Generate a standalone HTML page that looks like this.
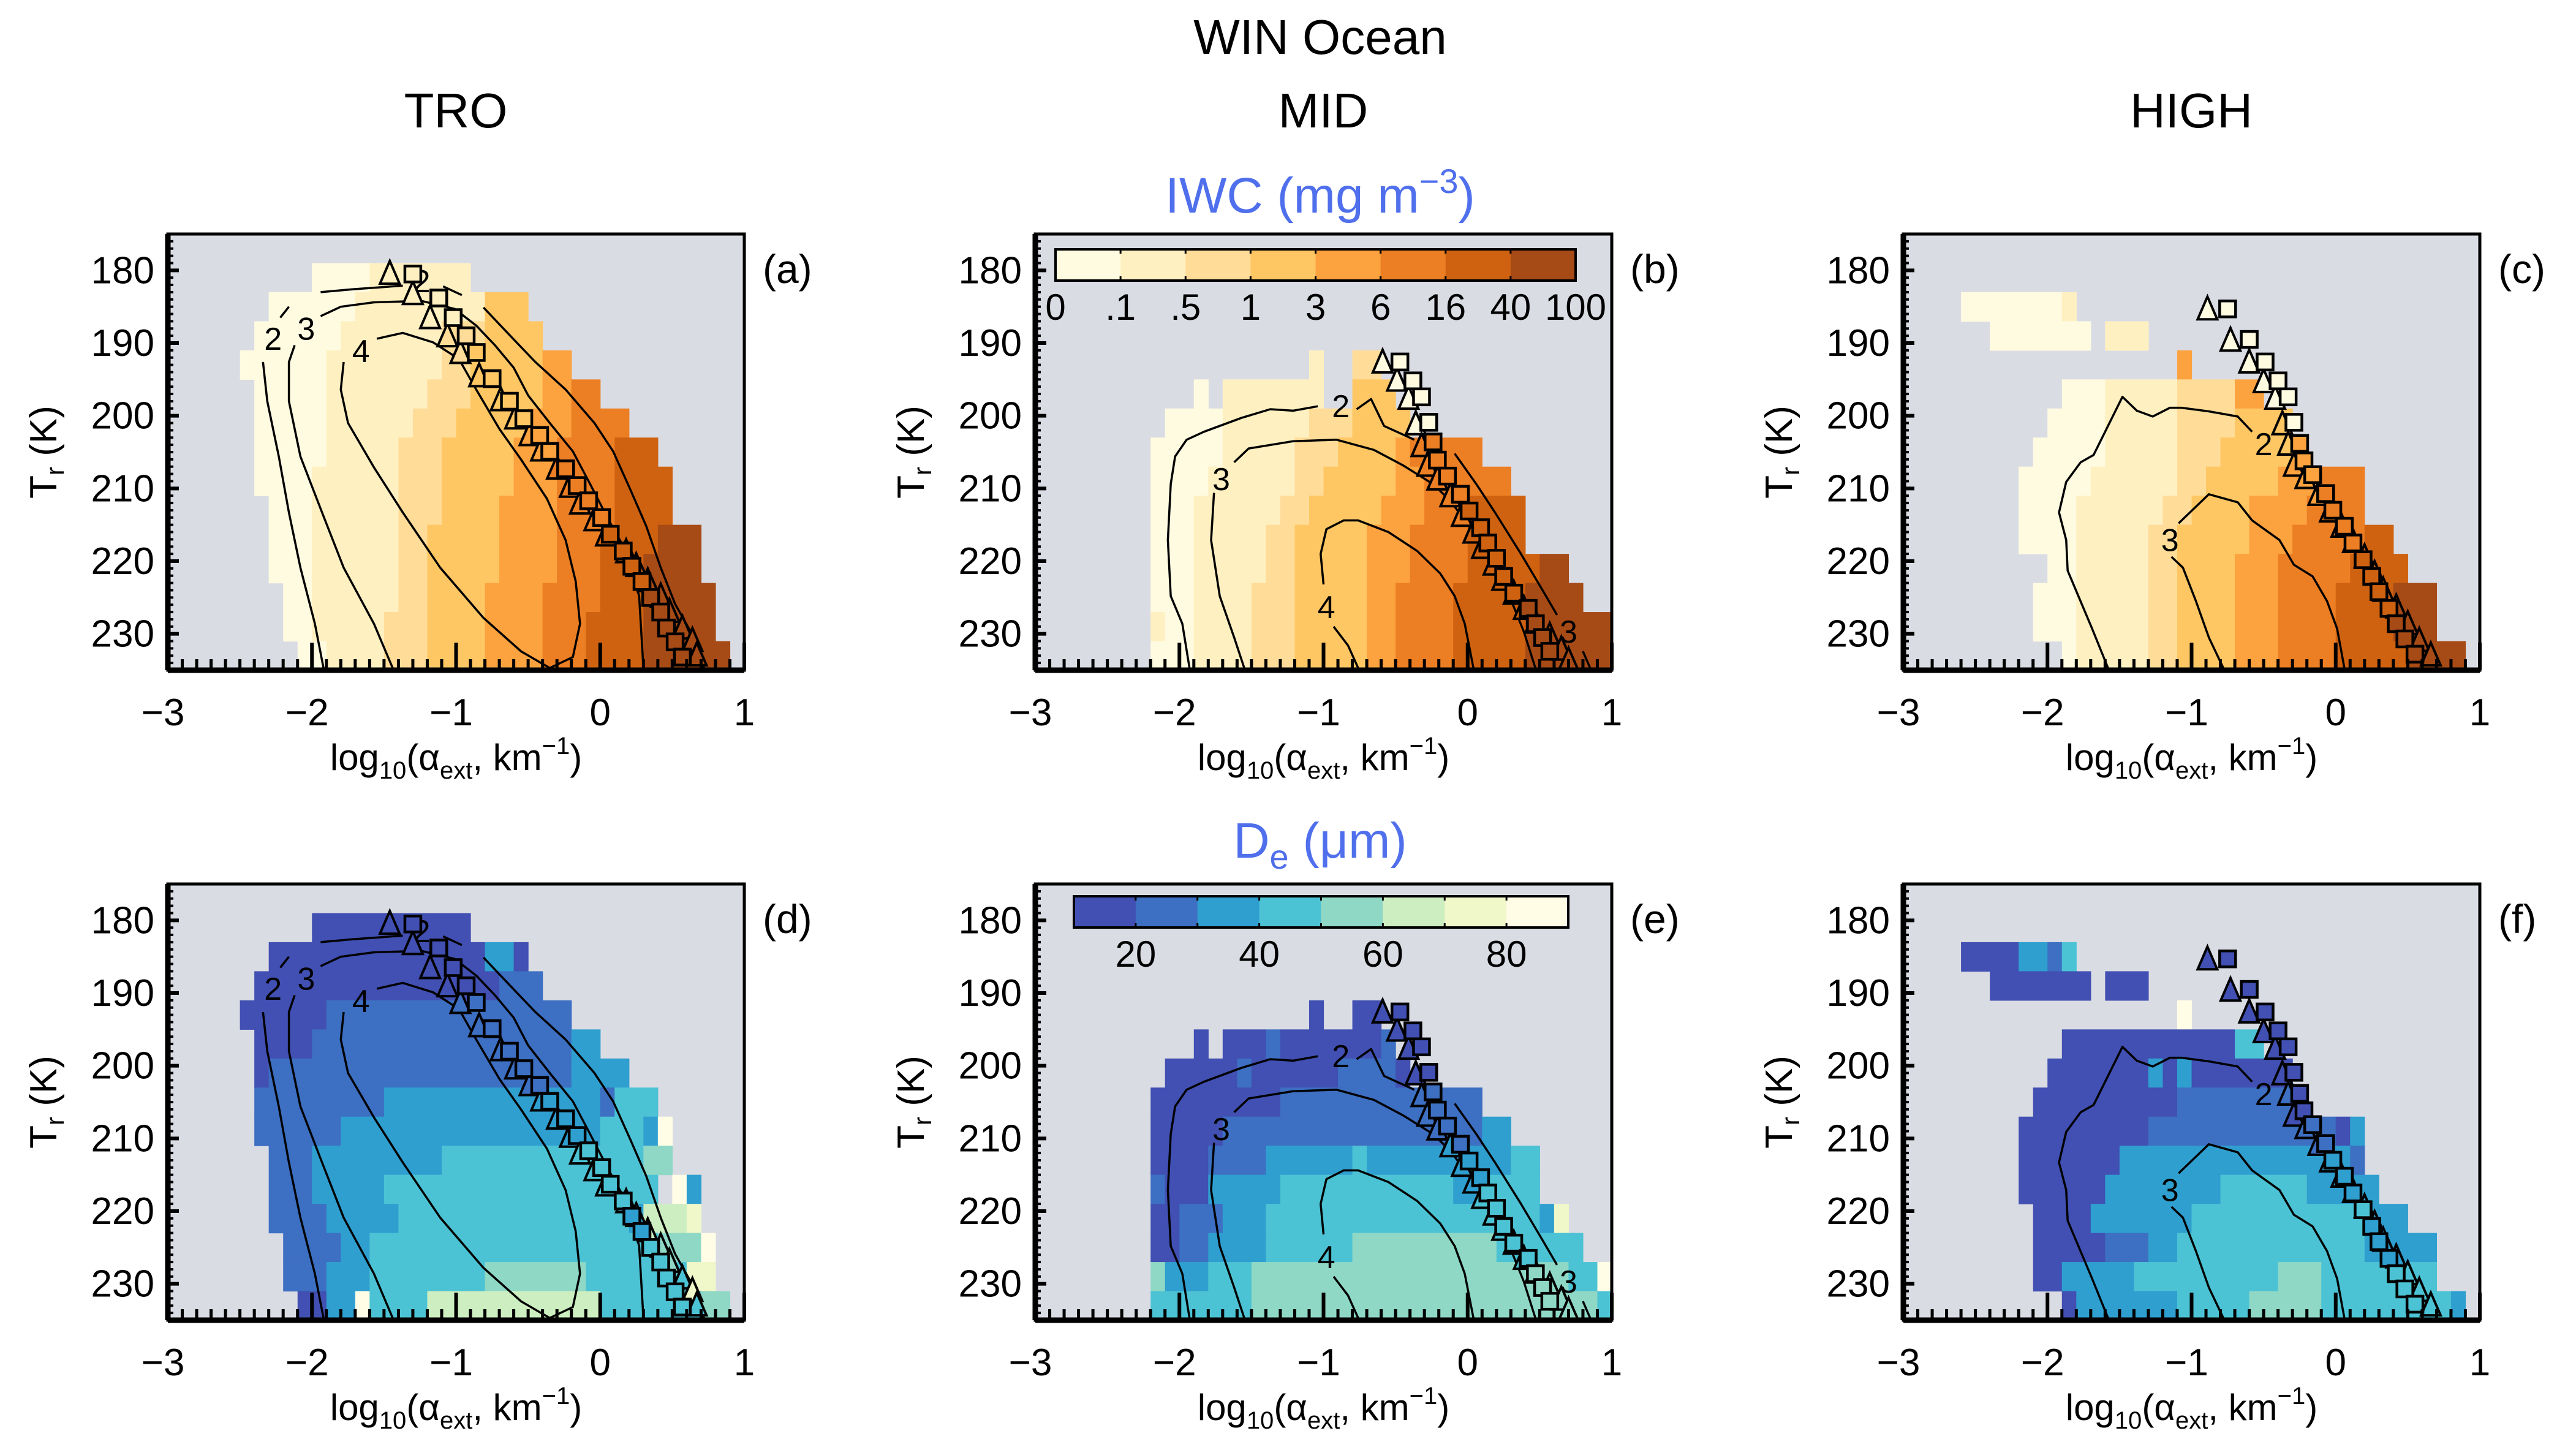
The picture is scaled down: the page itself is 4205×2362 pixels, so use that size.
<!DOCTYPE html>
<html><head><meta charset="utf-8"><title>WIN Ocean</title>
<style>html,body{margin:0;padding:0;background:#fff}svg{display:block;font-family:"Liberation Sans",sans-serif}</style>
</head><body>
<svg id="fig" xmlns="http://www.w3.org/2000/svg" width="4205" height="2362" viewBox="0 0 4205 2362">
<rect x="0" y="0" width="4205" height="2362" fill="#ffffff"/>
<text x="2155" y="88" font-size="80" text-anchor="middle">WIN Ocean</text>
<text x="744" y="208" font-size="80" text-anchor="middle">TRO</text>
<text x="2160" y="208" font-size="80" text-anchor="middle">MID</text>
<text x="3577" y="208" font-size="80" text-anchor="middle">HIGH</text>
<text x="2155" y="347" font-size="82" text-anchor="middle" fill="#4f6fec">IWC (mg m<tspan dy="-32" font-size="56">−3</tspan><tspan dy="32">)</tspan></text>
<text x="2155" y="1400" font-size="82" text-anchor="middle" fill="#4f6fec">D<tspan dy="18" font-size="56">e</tspan><tspan dy="-18"> (μm)</tspan></text>
<g id="panels"></g>
</svg>
<script>
// ---- data ----
const xTicks = [-3, -2, -1, 0, 1];
const yTicks = [180, 190, 200, 210, 220, 230];
const iwcLabels = ["0", ".1", ".5", "1", "3", "6", "16", "40", "100"];
const deLabels = ["20", "40", "60", "80"];
const iwcColors = ["#fffbe0", "#fff0c2", "#ffdc98", "#ffc764", "#fca23e", "#ec7e24", "#cf6210", "#a64a16"];
const deColors = ["#4150b2", "#3d6fc2", "#2f9fd0", "#4cc3d4", "#8fd8c6", "#cdeec0", "#f0f7c8", "#fffde6"];
// grid: 40 columns of 0.1 from -3, 15 rows of 4 K from 175; runs [c0,c1,bin]
const iwcA = [[],[[10,13,1],[14,20,2]],[[7,12,1],[13,21,2],[22,24,4]],[[6,11,1],[12,18,2],[19,21,3],[22,25,4]],[[5,10,1],[11,18,2],[19,20,3],[21,25,4],[26,27,5]],[[6,10,1],[11,17,2],[18,20,3],[21,25,4],[26,27,5],[28,29,6]],[[6,10,1],[11,16,2],[17,19,3],[20,24,4],[25,27,5],[28,31,6]],[[6,10,1],[11,15,2],[16,18,3],[19,23,4],[24,26,5],[27,30,6],[31,33,7]],[[6,9,1],[10,15,2],[16,18,3],[19,23,4],[24,26,5],[27,30,6],[31,34,7]],[[7,9,1],[10,15,2],[16,18,3],[19,22,4],[23,26,5],[27,30,6],[31,34,7]],[[7,9,1],[10,15,2],[16,17,3],[18,22,4],[23,26,5],[27,29,6],[30,33,7],[34,36,8]],[[7,9,1],[10,15,2],[16,17,3],[18,22,4],[23,26,5],[27,29,6],[30,32,7],[33,36,8]],[[8,9,1],[10,15,2],[16,17,3],[18,21,4],[22,25,5],[26,29,6],[30,32,7],[33,37,8]],[[8,9,1],[10,14,2],[15,17,3],[18,21,4],[22,25,5],[26,28,6],[29,32,7],[33,37,8]],[[9,10,1],[11,14,2],[15,17,3],[18,21,4],[22,25,5],[26,28,6],[29,32,7],[33,38,8]]];
const iwcB = [[],[],[],[],[[19,19,2],[22,23,3]],[[11,11,1],[13,19,2],[22,24,4]],[[9,12,1],[13,18,2],[19,21,3],[22,25,4]],[[8,12,1],[13,17,2],[18,20,3],[21,24,4],[25,25,5],[26,30,6]],[[8,11,1],[12,17,2],[18,19,3],[20,24,4],[25,26,5],[27,32,6]],[[8,10,1],[11,16,2],[17,18,3],[19,23,4],[24,26,5],[27,29,6],[30,33,7]],[[8,10,1],[11,15,2],[16,17,3],[18,22,4],[23,25,5],[26,29,6],[30,33,7]],[[8,10,1],[11,15,2],[16,17,3],[18,22,4],[23,25,5],[26,29,6],[30,34,7],[35,36,8]],[[8,10,1],[11,14,2],[15,17,3],[18,22,4],[23,24,5],[25,28,6],[29,33,7],[34,37,8]],[[8,8,2],[9,10,1],[11,14,2],[15,17,3],[18,22,4],[23,24,5],[25,28,6],[29,33,7],[34,39,8]],[[8,10,1],[11,14,2],[15,17,3],[18,22,4],[23,24,5],[25,28,6],[29,33,7],[34,39,8]]];
const iwcC = [[],[],[[4,10,1],[11,11,2]],[[6,12,1],[14,16,2]],[[19,19,5]],[[11,13,1],[14,18,2],[19,22,3],[23,24,5]],[[10,13,1],[14,18,2],[19,22,3],[23,26,4]],[[9,13,1],[14,18,2],[19,21,3],[22,26,4],[27,27,5]],[[8,12,1],[13,18,2],[19,20,3],[21,25,4],[26,28,5],[29,31,6]],[[8,11,1],[12,17,2],[18,19,3],[20,23,4],[24,27,5],[28,31,6]],[[8,11,1],[12,16,2],[17,18,3],[19,23,4],[24,26,5],[27,31,6],[32,33,7]],[[10,11,1],[12,16,2],[17,18,3],[19,22,4],[23,25,5],[26,30,6],[31,34,7]],[[9,11,1],[12,16,2],[17,18,3],[19,22,4],[23,25,5],[26,29,6],[30,33,7],[34,36,8]],[[9,11,1],[12,16,2],[17,18,3],[19,22,4],[23,25,5],[26,29,6],[30,33,7],[34,36,8]],[[11,11,1],[12,16,2],[17,18,3],[19,22,4],[23,25,5],[26,29,6],[30,34,7],[35,38,8]]];
const deD = [[],[[10,20,1]],[[7,21,1],[22,23,3],[24,24,1]],[[6,22,1],[23,25,2]],[[5,10,1],[11,27,2]],[[6,9,1],[10,27,2],[28,29,3]],[[6,6,1],[7,27,2],[28,31,3]],[[6,14,2],[15,29,3],[30,30,2],[31,33,4]],[[6,11,2],[12,29,3],[30,32,4],[33,33,3],[34,34,8]],[[7,9,2],[10,18,3],[19,32,4],[33,34,5]],[[7,9,2],[10,14,3],[15,33,4],[35,35,8],[36,36,3]],[[7,10,2],[11,15,3],[16,31,4],[32,32,3],[33,35,6],[36,36,7]],[[8,11,2],[12,13,3],[14,33,4],[34,36,5],[37,37,8]],[[8,10,2],[11,13,3],[14,21,4],[22,28,5],[29,35,4],[36,37,7]],[[9,10,1],[11,12,3],[13,13,8],[14,17,4],[18,29,6],[30,36,4],[37,38,5]]];
const deE = [[],[],[],[],[[19,19,1],[22,23,1]],[[11,11,1],[13,15,1],[16,16,2],[17,23,1],[24,24,2]],[[9,13,1],[14,14,2],[15,20,1],[21,24,2],[25,25,1]],[[8,16,1],[17,30,2]],[[8,12,1],[13,30,2],[31,32,3]],[[8,11,1],[12,15,2],[16,21,3],[22,22,4],[23,32,3],[33,34,4]],[[8,8,2],[9,11,1],[12,16,3],[17,28,4],[29,30,3],[31,34,4]],[[8,9,1],[10,12,2],[13,15,3],[16,34,4],[35,35,3],[36,36,7]],[[8,9,1],[10,11,2],[12,15,3],[16,21,4],[22,31,5],[32,37,4]],[[8,8,5],[9,11,3],[12,14,4],[15,36,5],[37,38,4],[39,39,8]],[[8,14,4],[15,38,5],[39,39,4]]];
const deF = [[],[],[[4,7,1],[8,9,3],[10,10,2],[11,11,4]],[[6,12,1],[14,16,1]],[[19,19,8]],[[11,22,1],[23,24,4]],[[10,16,1],[17,17,3],[18,18,1],[19,19,3],[20,26,1]],[[9,18,1],[19,26,2]],[[8,16,1],[17,29,2],[30,30,1],[31,31,3]],[[8,14,1],[15,30,3],[31,31,2]],[[8,13,1],[14,21,3],[22,27,4],[28,32,3]],[[9,12,1],[13,19,3],[20,31,4],[32,34,3]],[[9,13,1],[14,16,2],[17,18,3],[19,31,4],[32,36,3]],[[9,10,1],[11,15,3],[16,25,4],[26,28,5],[29,36,4]],[[11,11,1],[12,18,3],[19,23,4],[24,28,5],[29,37,4],[38,38,3]]];
// markers: [log10 alpha, Tr]
const triTRO = [[-1.46,180.4],[-1.30,183.2],[-1.18,186.5],[-1.06,189.0],[-0.97,191.3],[-0.84,194.5],[-0.69,197.8],[-0.59,200.3],[-0.49,202.6],[-0.41,204.7],[-0.30,207.2],[-0.21,209.7],[-0.14,212.0],[-0.04,214.3],[0.04,216.4],[0.18,218.7],[0.25,220.6],[0.33,222.7],[0.42,224.8],[0.48,226.9],[0.57,229.2],[0.64,230.9],[0.67,232.9]];
const sqTRO = [[-1.30,180.5],[-1.12,183.8],[-1.02,186.5],[-0.93,189.0],[-0.86,191.3],[-0.75,194.9],[-0.63,198.0],[-0.53,200.4],[-0.42,202.7],[-0.35,204.9],[-0.24,207.3],[-0.16,209.6],[-0.08,211.7],[0.01,214.0],[0.07,216.3],[0.16,218.6],[0.22,220.7],[0.29,222.8],[0.35,225.0],[0.42,227.0],[0.46,229.2],[0.52,231.1],[0.57,233.2]];
const triMID = [[-0.59,192.6],[-0.49,195.1],[-0.41,197.6],[-0.36,201.1],[-0.32,204.1],[-0.28,206.8],[-0.21,208.7],[-0.12,211.0],[-0.04,213.7],[0.04,216.0],[0.10,218.1],[0.18,220.4],[0.24,222.5],[0.32,224.4],[0.39,226.5],[0.47,228.4],[0.57,230.2],[0.65,232.1],[0.70,233.6]];
const sqMID = [[-0.47,192.6],[-0.38,195.2],[-0.32,197.4],[-0.27,200.9],[-0.24,203.6],[-0.21,206.1],[-0.14,208.3],[-0.05,210.8],[0.01,213.1],[0.09,215.4],[0.14,217.5],[0.20,219.6],[0.25,222.1],[0.32,224.4],[0.42,226.5],[0.47,228.6],[0.52,230.5],[0.57,232.4]];
const triHIGH = [[-0.89,185.3],[-0.73,189.6],[-0.60,192.6],[-0.50,195.3],[-0.42,197.6],[-0.37,201.1],[-0.33,203.9],[-0.29,206.8],[-0.21,208.5],[-0.12,210.8],[-0.04,213.1],[0.04,215.2],[0.12,217.3],[0.20,219.4],[0.27,221.7],[0.33,224.0],[0.42,226.3],[0.50,228.6],[0.58,230.9],[0.66,232.9]];
const sqHIGH = [[-0.75,185.3],[-0.60,189.5],[-0.49,192.6],[-0.40,195.2],[-0.33,197.4],[-0.29,200.9],[-0.25,203.8],[-0.22,206.2],[-0.16,208.1],[-0.07,210.7],[-0.02,213.0],[0.06,215.2],[0.12,217.5],[0.19,219.8],[0.25,222.1],[0.30,224.2],[0.37,226.5],[0.42,228.6],[0.48,230.7],[0.55,232.8]];
// contours: list of polyline segments in [log10 alpha, Tr]
const contTRO = [
 [[-1.92,234.7],[-1.98,228.6],[-2.08,220.9],[-2.16,213.3],[-2.23,205.6],[-2.31,198.0],[-2.34,192.6]],
 [[-2.22,186.5],[-2.16,185.0]],
 [[-1.94,183.0],[-1.72,182.6],[-1.37,182.1]],
 [[-1.09,182.2],[-0.96,183.4]],
 [[-0.81,185.1],[-0.60,189.5],[-0.45,192.6],[-0.24,196.4],[-0.04,201.0],[0.09,204.9],[0.21,210.2],[0.32,215.2],[0.42,220.9],[0.52,225.9],[0.65,230.5],[0.72,234.7]],
 [[-1.44,234.7],[-1.57,228.6],[-1.78,220.9],[-1.93,213.3],[-2.08,205.6],[-2.16,198.0],[-2.16,192.6],[-2.12,190.3]],
 [[-1.94,186.3],[-1.80,185.0],[-1.57,184.4],[-1.24,184.2],[-1.01,185.3],[-0.86,187.6],[-0.73,190.3],[-0.60,193.4],[-0.50,197.2],[-0.35,201.0],[-0.19,204.9],[-0.07,209.4],[0.06,214.4],[0.19,219.0],[0.27,224.8],[0.30,234.7]],
 [[-1.78,192.6],[-1.80,196.4],[-1.75,201.0],[-1.57,207.1],[-1.37,213.3],[-1.11,220.9],[-0.81,227.8],[-0.55,232.4],[-0.35,234.7],[-0.19,233.2],[-0.14,228.6],[-0.17,222.8],[-0.24,217.1],[-0.37,211.4],[-0.55,206.0],[-0.70,201.8],[-0.86,196.4],[-0.98,192.2],[-1.16,189.9],[-1.37,188.6],[-1.55,189.4]]
];
const labTRO = [["2",-2.27,189.4],["2",-1.24,181.5],["3",-2.04,188.0],["4",-1.66,191.1]];
const contMID = [
 [[-1.93,234.7],[-1.98,228.6],[-2.06,224.8],[-2.08,217.1],[-2.06,209.4],[-2.03,205.6],[-1.95,203.3],[-1.83,202.2],[-1.57,200.3],[-1.37,199.1],[-1.21,199.3],[-1.04,198.7]],
 [[-0.77,199.1],[-0.67,197.7],[-0.58,201.4],[-0.37,203.3]],
 [[-0.09,205.2],[0.06,209.4],[0.19,213.3],[0.37,219.0],[0.52,224.0],[0.62,227.4]],
 [[0.80,232.4],[0.85,234.7]],
 [[-1.55,234.7],[-1.62,230.5],[-1.72,224.8],[-1.78,217.1],[-1.76,210.6]],
 [[-1.62,206.4],[-1.52,204.5],[-1.21,203.5],[-0.91,203.3],[-0.65,204.7],[-0.45,206.8],[-0.24,209.4],[-0.12,211.7],[0.01,215.2],[0.16,220.2],[0.29,224.8],[0.39,229.7],[0.47,234.7]],
 [[-1.00,223.2],[-1.02,219.0],[-0.98,215.6],[-0.86,214.4],[-0.76,214.4],[-0.55,216.0],[-0.35,218.6],[-0.19,221.7],[-0.09,224.8],[-0.02,228.6],[0.04,234.7]],
 [[-0.93,229.0],[-0.83,231.6],[-0.76,234.7]]
];
const labMID = [["2",-0.88,198.7],["3",0.70,229.7],["3",-1.71,208.7],["4",-0.98,226.3]];
const contHIGH = [
 [[-1.58,234.7],[-1.69,229.3],[-1.86,221.3],[-1.87,217.1],[-1.92,213.3],[-1.87,209.1],[-1.77,206.4],[-1.68,205.4],[-1.59,201.8],[-1.48,197.4],[-1.38,199.3],[-1.27,200.1],[-1.15,198.9],[-1.07,198.9],[-0.88,199.4],[-0.68,200.1],[-0.58,202.2]],
 [[-0.78,234.7],[-0.88,230.5],[-0.97,225.5],[-1.06,220.9],[-1.14,219.4]],
 [[-1.09,214.8],[-0.88,210.8],[-0.68,211.9],[-0.58,214.4],[-0.39,217.1],[-0.29,220.5],[-0.16,222.1],[-0.06,225.5],[0.01,229.3],[0.06,234.7]]
];
const labHIGH = [["2",-0.50,203.9],["3",-1.15,217.1]];

// ---- layout ----
const NS = "http://www.w3.org/2000/svg";
const PW = 941, PH = 712;
const colLeft = [274, 1690, 3107];
const rowTop = [382, 1443];
const panelsSpec = [
 {id:"a", grid:iwcA, pal:iwcColors, col:0, row:0, tri:triTRO, sq:sqTRO, cont:contTRO, lab:labTRO},
 {id:"b", grid:iwcB, pal:iwcColors, col:1, row:0, tri:triMID, sq:sqMID, cont:contMID, lab:labMID, bar:"iwc"},
 {id:"c", grid:iwcC, pal:iwcColors, col:2, row:0, tri:triHIGH, sq:sqHIGH, cont:contHIGH, lab:labHIGH},
 {id:"d", grid:deD, pal:deColors, col:0, row:1, tri:triTRO, sq:sqTRO, cont:contTRO, lab:labTRO},
 {id:"e", grid:deE, pal:deColors, col:1, row:1, tri:triMID, sq:sqMID, cont:contMID, lab:labMID, bar:"de"},
 {id:"f", grid:deF, pal:deColors, col:2, row:1, tri:triHIGH, sq:sqHIGH, cont:contHIGH, lab:labHIGH}
];
function mk(tag, attrs, parent){const e=document.createElementNS(NS,tag);for(const k in attrs)e.setAttribute(k,attrs[k]);if(parent)parent.appendChild(e);return e;}
const root = document.getElementById("panels");

panelsSpec.forEach(p => {
  const L = colLeft[p.col], T = rowTop[p.row];
  const sx = x => L + (x + 3) / 4 * PW;
  const sy = t => T + (t - 175) / 60 * PH;
  const g = mk("g", {}, root);
  
  
  const bg = mk("rect", {x:L, y:T, width:PW, height:PH, fill:"#dadce4"}, g);
  
  
  // heatmap cells
  const cellLookup = {};
  p.grid.forEach((runs, r) => {
    runs.forEach(run => {
      const x0 = -3 + run[0] * 0.1, x1 = -3 + (run[1] + 1) * 0.1;
      const t0 = 175 + r * 4, t1 = t0 + 4;
      for (let c = run[0]; c <= run[1]; c++) cellLookup[r + "_" + c] = run[2];
      const cell = mk("rect", {x:sx(x0), y:sy(t0), width:sx(x1)-sx(x0)+0.6, height:sy(t1)-sy(t0)+0.6, fill:p.pal[run[2]-1]}, g);
      
      
    });
  });
  const colorAt = (x, t) => {
    const c = Math.floor((x + 3) / 0.1), r = Math.floor((t - 175) / 4);
    const b = cellLookup[r + "_" + c];
    return p.pal[(b || 1) - 1];
  };
  // contours
  p.cont.forEach(seg => {
    const pl = mk("polyline", {points: seg.map(q => sx(q[0]).toFixed(1) + "," + sy(q[1]).toFixed(1)).join(" "), fill:"none", stroke:"#000", "stroke-width":3.5, "stroke-linejoin":"round"}, g);
    
    
  });
  p.lab.forEach(l => {
    const t = mk("text", {x:sx(l[1]), y:sy(l[2]) + 18, "font-size":52, "text-anchor":"middle"}, g);
    t.textContent = l[0];
    
    
  });
  // markers
  p.tri.forEach(m => {
    const cx = sx(m[0]), cy = sy(m[1]);
    const tr = mk("polygon", {points:`${cx},${cy-20} ${cx-16},${cy+17} ${cx+16},${cy+17}`, fill:colorAt(m[0], m[1]), stroke:"#000", "stroke-width":4, "stroke-linejoin":"miter"}, g);
    
    
  });
  p.sq.forEach(m => {
    const cx = sx(m[0]), cy = sy(m[1]);
    const s = mk("rect", {x:cx-13, y:cy-13, width:26, height:26, fill:colorAt(m[0], m[1]), stroke:"#000", "stroke-width":4.5}, g);
    
    
  });
  // colorbar
  if (p.bar) {
    const bx0 = p.bar === "iwc" ? 1723 : 1753, bx1 = p.bar === "iwc" ? 2572 : 2560;
    const by0 = p.bar === "iwc" ? 407 : 1463, bh = 51;
    const bw = (bx1 - bx0) / 8;
    p.pal.forEach((c, i) => {
      const r = mk("rect", {x:bx0 + i*bw, y:by0, width:bw+0.5, height:bh, fill:c}, g);
      
      
    });
    for (let i = 1; i < 8; i++) {
      const tk = mk("line", {x1:bx0+i*bw, x2:bx0+i*bw, y1:by0, y2:by0+7, stroke:"#000", "stroke-width":3}, g);
      
      
      const tk2 = mk("line", {x1:bx0+i*bw, x2:bx0+i*bw, y1:by0+bh-7, y2:by0+bh, stroke:"#000", "stroke-width":3}, g);
      
      
    }
    const fr = mk("rect", {x:bx0, y:by0, width:bx1-bx0, height:bh, fill:"none", stroke:"#000", "stroke-width":4}, g);
    
    
    if (p.bar === "iwc") {
      iwcLabels.forEach((s, i) => {
        const t = mk("text", {x:bx0 + i*bw, y:by0 + 115, "font-size":60, "text-anchor":"middle"}, g);
        t.textContent = s;
        
        
      });
    } else {
      deLabels.forEach((s, i) => {
        const t = mk("text", {x:bx0 + (2*i+1)*bw, y:by0 + 115, "font-size":60, "text-anchor":"middle"}, g);
        t.textContent = s;
        
        
      });
    }
  }
  // ticks
  for (let k = 175; k <= 235; k++) {
    const len = (k % 10 === 0) ? 18 : 9;
    const tk = mk("line", {x1:L, x2:L+len, y1:sy(k), y2:sy(k), stroke:"#000", "stroke-width": (k % 10 === 0) ? 6 : 4}, g);
    
    
  }
  for (let k = 0; k <= 40; k++) {
    const major = k % 10 === 0;
    const xv = -3 + k * 0.1;
    const tk = mk("line", {x1:sx(xv), x2:sx(xv), y1:T+PH, y2:T+PH-(major?45:18), stroke:"#000", "stroke-width":major?6:5}, g);
    
    
  }
  // frame
  const fr = mk("rect", {x:L, y:T, width:PW, height:PH, fill:"none", stroke:"#000", "stroke-width":5}, g);
  
  
  mk("line", {x1:L, x2:L, y1:T, y2:T+PH, stroke:"#000", "stroke-width":9}, g);
  mk("line", {x1:L, x2:L+PW, y1:T+PH, y2:T+PH, stroke:"#000", "stroke-width":9}, g);
  // tick labels
  yTicks.forEach(v => {
    const t = mk("text", {x:L - 22, y:sy(v) + 21, "font-size":62, "text-anchor":"end"}, g);
    t.textContent = v;
    
    
  });
  xTicks.forEach(v => {
    const t = mk("text", {x:sx(v) - (v < 0 ? 8 : 0), y:T + PH + 90, "font-size":62, "text-anchor":"middle"}, g);
    t.textContent = v < 0 ? "−" + Math.abs(v) : String(v);
    
    
  });
  // axis titles
  const xt = mk("text", {x:L + PW/2, y:T + PH + 163, "font-size":60, "text-anchor":"middle"}, g);
  xt.innerHTML = 'log<tspan font-size="40" dy="14">10</tspan><tspan dy="-14">(α</tspan><tspan font-size="40" dy="14">ext</tspan><tspan dy="-14">, km</tspan><tspan font-size="40" dy="-26">−1</tspan><tspan dy="26">)</tspan>';
  
  
  const yt = mk("text", {x:0, y:0, "font-size":62, "text-anchor":"middle", transform:`translate(${L-182},${T+PH/2}) rotate(-90)`}, g);
  yt.innerHTML = 'T<tspan font-size="42" dy="12">r</tspan><tspan dy="-12"> (K)</tspan>';
  
  
  const pl = mk("text", {x:L + PW + 30, y:T + 80, "font-size":66}, g);
  pl.textContent = "(" + p.id + ")";
  
  
});
</script>
</body></html>
